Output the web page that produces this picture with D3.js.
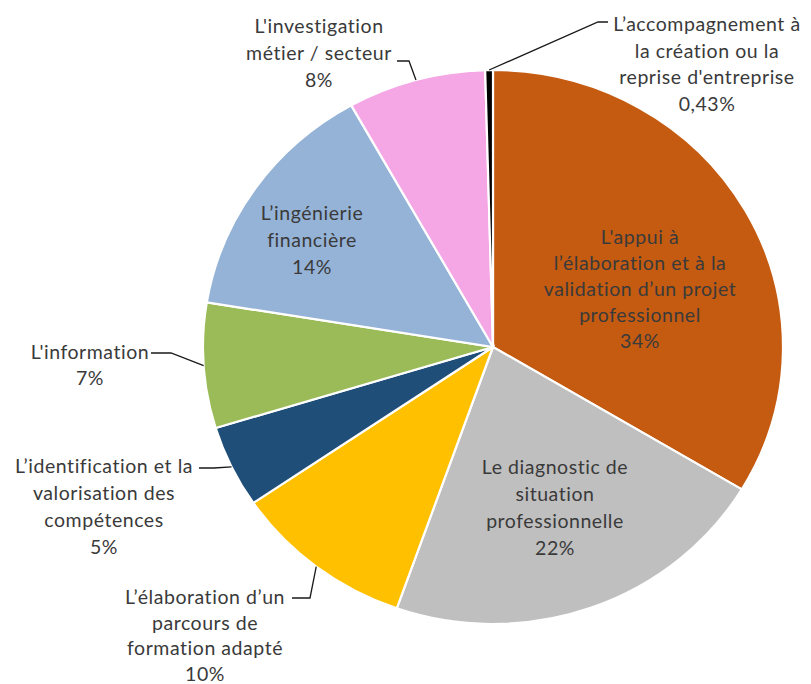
<!DOCTYPE html>
<html><head><meta charset="utf-8">
<script src="https://cdn.jsdelivr.net/npm/d3@7"></script>
<style>
html,body{margin:0;padding:0;background:#fff;}
svg{display:block;}
text{font-family:Lato,"Open Sans",sans-serif;fill:#3a3a3a;}
</style></head>
<body>
<svg id="chart" width="811" height="684"></svg>
<script>
// ---- data ----
const categories = [
  "L'appui à l’élaboration et à la validation d’un projet professionnel",
  "Le diagnostic de situation professionnelle",
  "L’élaboration d’un parcours de formation adapté",
  "L’identification et la valorisation des compétences",
  "L'information",
  "L’ingénierie financière",
  "L'investigation métier / secteur",
  "L’accompagnement à la création ou la reprise d'entreprise"
];
const values = [33.6, 21.8, 10.1, 4.8, 7.3, 14.3, 7.7, 0.43];
const percentLabels = ["34%", "22%", "10%", "5%", "7%", "14%", "8%", "0,43%"];
const labelLines = [
  ["L'appui à", "l’élaboration et à la", "validation d’un projet", "professionnel"],
  ["Le diagnostic de", "situation", "professionnelle"],
  ["L’élaboration d’un", "parcours de", "formation adapté"],
  ["L’identification et la", "valorisation des", "compétences"],
  ["L'information"],
  ["L’ingénierie", "financière"],
  ["L'investigation", "métier / secteur"],
  ["L’accompagnement  à", "la création ou la", "reprise d'entreprise"]
];
const colors = ["#C55A11", "#BFBFBF", "#FFC000", "#1F4E79", "#9BBB59", "#95B3D7", "#F5A6E4", "#000000"];

// ---- layout (not data) ----
const cx = 493, cy = 347, rx = 290, ry = 277;
const labelLayout = [
  {x: 640, y: 244, lh: 26, inside: true},
  {x: 555, y: 474, lh: 27, inside: true},
  {x: 205, y: 604, lh: 25.5, leader: [[292, 598], [310, 598]]},
  {x: 104, y: 473, lh: 27, leader: [[199, 468], [214, 468]]},
  {x: 90,  y: 359, lh: 26, leader: [[151, 353], [171, 353]]},
  {x: 312, y: 220, lh: 27, inside: true},
  {x: 319, y: 33,  lh: 27, leader: [[397, 61], [409, 61]]},
  {x: 707, y: 31,  lh: 26.5, leader: [[608, 22], [598, 22]]}
];

const svg = d3.select("#chart");
const pie = d3.pie().sort(null).value(d => d).startAngle(0).endAngle(2 * Math.PI);
const arcs = pie(values);
const arc = d3.arc().innerRadius(0).outerRadius(ry);

const g = svg.append("g").attr("transform", `translate(${cx},${cy}) scale(${rx / ry},1)`);
g.selectAll("path").data(arcs).join("path")
  .attr("d", arc)
  .attr("fill", (d, i) => colors[i])
  .attr("stroke", "#fff")
  .attr("stroke-width", 2.2)
  .attr("vector-effect", "non-scaling-stroke");

function edgePoint(d) {
  const a = (d.startAngle + d.endAngle) / 2;
  return [cx + rx * Math.sin(a), cy - ry * Math.cos(a)];
}

// leaders
arcs.forEach((d, i) => {
  const L = labelLayout[i];
  if (!L.leader) return;
  const pts = [...L.leader, edgePoint(d)];
  svg.append("path")
    .attr("d", d3.line()(pts))
    .attr("fill", "none")
    .attr("stroke", "#1a1a1a")
    .attr("stroke-width", 1.3);
});

// labels
arcs.forEach((d, i) => {
  const L = labelLayout[i];
  const lines = [...labelLines[i], percentLabels[i]];
  const t = svg.append("text")
    .attr("text-anchor", "middle")
    .attr("font-size", 19.5)
    .attr("letter-spacing", 0.55);
  lines.forEach((s, k) => {
    t.append("tspan").attr("x", L.x).attr("y", L.y + k * L.lh).text(s);
  });
});
</script>
</body></html>
